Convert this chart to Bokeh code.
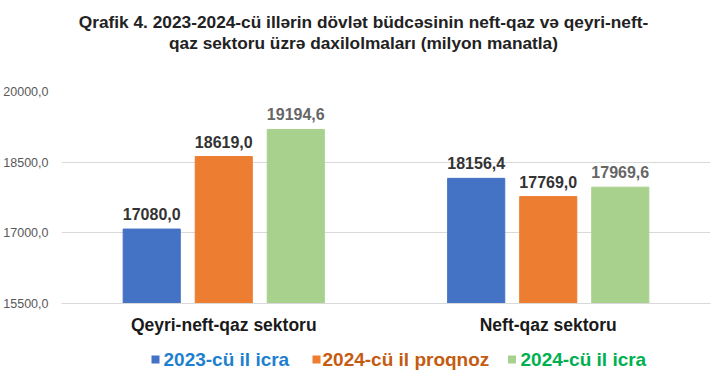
from bokeh.plotting import figure
from bokeh.models import ColumnDataSource, LabelSet, FixedTicker, Range1d
from bokeh.transform import dodge
from bokeh.layouts import column
from bokeh.core.properties import value
from bokeh.embed import file_html
from bokeh.resources import INLINE

title_lines = ["Qrafik 4. 2023-2024-cü illərin dövlət büdcəsinin neft-qaz və qeyri-neft-",
               "qaz sektoru üzrə daxilolmaları (milyon manatla)"]
categories = ["Qeyri-neft-qaz sektoru", "Neft-qaz sektoru"]
series_names = ["2023-cü il icra", "2024-cü il proqnoz", "2024-cü il icra"]
icra_2023 = [17080.0, 18156.4]
proqnoz_2024 = [18619.0, 17769.0]
icra_2024 = [19194.6, 17969.6]
y_ticks = [15500, 17000, 18500, 20000]

bar_colors = ["#4472C4", "#ED7D31", "#A9D18E"]
legend_colors = ["#1F7FCF", "#C55A11", "#00B050"]
label_colors = ["#333333", "#333333", "#666666"]
FONT = "Liberation Sans"
W = 712
BL, BR = 61, 2          # left / right borders shared by all stacked figures


def fmt(v):
    return f"{v:.1f}".replace(".", ",")


def blank_fig(h):
    # data coordinates equal pixel coordinates inside the figure
    fig = figure(width=W, height=h, x_range=Range1d(BL, W - BR), y_range=Range1d(0, h),
                 x_axis_type=None, y_axis_type=None,
                 output_backend="svg", toolbar_location=None,
                 min_border_left=BL, min_border_right=BR,
                 min_border_top=0, min_border_bottom=0)
    fig.grid.grid_line_color = None
    fig.outline_line_color = None
    return fig


# ---- title ----
TH = 80
pt = blank_fig(TH)
tsrc = ColumnDataSource(dict(x=[363, 363], y=[TH - 21.7, TH - 42.7], t=title_lines))
pt.text(x="x", y="y", text="t", source=tsrc, text_align="center", text_baseline="alphabetic",
        text_font=value(FONT), text_font_style="bold", text_font_size="17.3px",
        text_color="#222222")

# ---- main chart ----
p = figure(x_range=categories, y_range=Range1d(15500, 20000), width=W, height=263,
           output_backend="svg", toolbar_location=None,
           min_border_left=BL, min_border_right=BR, min_border_top=11, min_border_bottom=40)
p.outline_line_color = None

series = [icra_2023, proqnoz_2024, icra_2024]
offsets = [-0.222, 0.0, 0.222]
for vals, col, lcol, off in zip(series, bar_colors, label_colors, offsets):
    src = ColumnDataSource(dict(cat=categories, val=vals, txt=[fmt(v) for v in vals]))
    p.vbar(x=dodge("cat", off, range=p.x_range), top="val", bottom=15500, width=0.176,
           source=src, fill_color=col, line_color=col)
    lbl = LabelSet(x=dodge("cat", off, range=p.x_range), y="val", text="txt", source=src,
                   text_align="center", text_baseline="alphabetic", y_offset=9,
                   text_font=value(FONT), text_font_style="bold", text_font_size="16px",
                   text_color=lcol)
    p.add_layout(lbl)

p.yaxis.ticker = FixedTicker(ticks=y_ticks)
p.yaxis.major_label_overrides = {t: fmt(t) for t in y_ticks}
p.yaxis.axis_line_color = None
p.yaxis.major_tick_line_color = None
p.yaxis.minor_tick_line_color = None
p.yaxis.major_tick_out = 0
p.yaxis.major_tick_in = 0
p.yaxis.minor_tick_out = 0
p.yaxis.major_label_text_font = FONT
p.yaxis.major_label_text_font_size = "12.5px"
p.yaxis.major_label_text_color = "#595959"
p.yaxis.major_label_standoff = 13

p.xaxis.axis_line_color = "#d9d9d9"
p.xaxis.major_tick_line_color = None
p.xaxis.minor_tick_line_color = None
p.xaxis.major_tick_out = 0
p.xaxis.major_tick_in = 0
p.xaxis.minor_tick_out = 0
p.xaxis.major_label_text_font = FONT
p.xaxis.major_label_text_font_style = "bold"
p.xaxis.major_label_text_font_size = "17.5px"
p.xaxis.major_label_text_color = "#1a1a1a"
p.xaxis.major_label_standoff = 11

p.xgrid.grid_line_color = None
p.ygrid.grid_line_color = "#d9d9d9"
p.ygrid.grid_line_width = 1

# ---- legend row ----
LH = 27
pl = blank_fig(LH)
LY = 11
sq_x = [155, 316, 511.5]
txt_x = [163, 322, 520]
pl.rect(x=sq_x, y=[LY] * 3, width=8, height=8, fill_color=bar_colors, line_color=None)
lsrc = ColumnDataSource(dict(x=txt_x, y=[LY] * 3, t=series_names, c=legend_colors))
pl.text(x="x", y="y", text="t", text_color="c", source=lsrc, text_align="left",
        text_baseline="middle", text_font=value(FONT), text_font_style="bold",
        text_font_size="19px")

layout = column(pt, p, pl, spacing=0)
open("out.html", "w").write(file_html(layout, INLINE))
